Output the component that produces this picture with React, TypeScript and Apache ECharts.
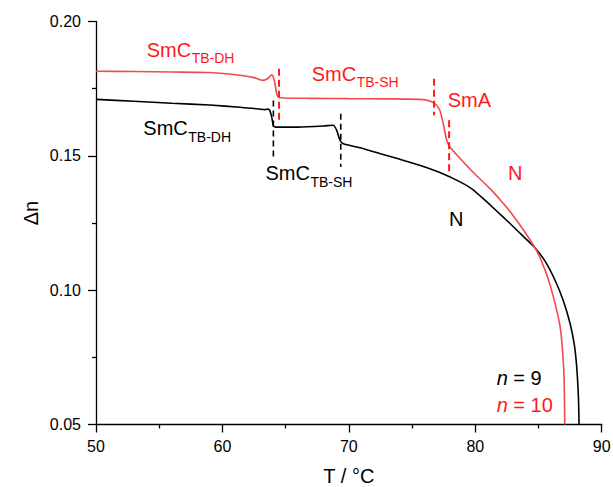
import React, { useEffect, useRef } from "react";
import * as echarts from "echarts";

// n = 10 (red)
const redT = [50, 53, 56, 59, 61.4, 62.5, 63.2, 63.6, 63.9, 64.05, 64.16, 64.28, 64.4, 64.8, 67, 70, 73, 75.6, 76.4, 76.9, 77.2, 77.47, 77.74, 78.0, 78.8, 79.85, 81.17, 82.0, 82.75, 83.8, 84.73, 85.13, 85.78, 86.31, 86.71, 86.92, 87.03, 87.08];
const redDn = [0.1815, 0.1814, 0.1812, 0.181, 0.18, 0.1791, 0.1781, 0.1788, 0.1802, 0.179, 0.1768, 0.1735, 0.1719, 0.1715, 0.1714, 0.1713, 0.1712, 0.171, 0.1704, 0.169, 0.1669, 0.162, 0.1558, 0.1533, 0.149, 0.1438, 0.1378, 0.1335, 0.1293, 0.1225, 0.1157, 0.112, 0.104, 0.0951, 0.0864, 0.0765, 0.0666, 0.05];

// n = 9 (black)
const blackT = [50, 53, 56, 59, 61.4, 62.7, 63.4, 63.6, 63.75, 63.9, 64.03, 64.2, 66, 68, 68.77, 69.04, 69.3, 69.56, 70.9, 72.5, 74.05, 75.6, 77.2, 78.8, 79.7, 80.5, 81.5, 82.75, 83.8, 84.73, 85.52, 86.31, 86.97, 87.5, 87.84, 88.03, 88.16, 88.21];
const blackDn = [0.171, 0.1703, 0.1696, 0.1689, 0.1681, 0.1675, 0.1672, 0.1674, 0.1668, 0.1644, 0.1612, 0.1607, 0.1607, 0.1611, 0.1614, 0.1595, 0.1558, 0.1545, 0.153, 0.1508, 0.1487, 0.1465, 0.1438, 0.1403, 0.1378, 0.1346, 0.1303, 0.1248, 0.12, 0.1157, 0.1108, 0.1037, 0.096, 0.0876, 0.0795, 0.071, 0.06, 0.05];

// phase transition markers: [T, top, bottom]
const redDashes = [
  [64.48, 0.1824, 0.1626],
  [76.74, 0.1787, 0.1651],
  [77.93, 0.1632, 0.144],
];
const blackDashes = [
  [64.03, 0.1706, 0.1483],
  [69.36, 0.1657, 0.1458],
];

const xTicks = [50, 60, 70, 80, 90];
const yTicks = [0.05, 0.1, 0.15, 0.2];

const RED = "#ff1a1a";
const RED_LINE = "#f24a4a";
const FONT = "Liberation Sans, Arial, sans-serif";

// phase labels: main text, subscript, colour, left x, baseline y
const phaseLabels: [string, string, string, number, number][] = [
  ["SmC", "TB-DH", RED, 146.7, 56.7],
  ["SmC", "TB-SH", RED, 311.7, 80.7],
  ["SmA", "", RED, 447.7, 106.7],
  ["N", "", RED, 508, 180],
  ["SmC", "TB-DH", "#000", 143.3, 135],
  ["SmC", "TB-SH", "#000", 265.5, 180],
  ["N", "", "#000", 449, 226],
];

export default function App() {
  const ref = useRef<HTMLDivElement>(null);
  useEffect(() => {
    if (!ref.current) return;
    const chart = echarts.init(ref.current, null, { renderer: "svg" });

    const mainFs = 20;
    const subFs = 14;
    const graphics: any[] = [];
    phaseLabels.forEach(([main, sub, color, x, base]) => {
      graphics.push({
        type: "text",
        x,
        y: base - 0.3465 * mainFs,
        style: { text: main, fill: color, font: `${mainFs}px ${FONT}`, verticalAlign: "middle", align: "left" },
      });
      if (sub) {
        const w = main === "SmC" ? 2.222 * mainFs : 0;
        graphics.push({
          type: "text",
          x: x + w + 0.5,
          y: base + 6.5 - 0.3465 * subFs,
          style: { text: sub, fill: color, font: `${subFs}px ${FONT}`, verticalAlign: "middle", align: "left" },
        });
      }
    });
    graphics.push({
      type: "text",
      x: 496.7,
      y: 385 - 0.3465 * 20,
      style: {
        text: "{i|n} = 9",
        fill: "#000",
        font: `20px ${FONT}`,
        verticalAlign: "middle",
        rich: { i: { fontStyle: "italic", fontSize: 20, fontFamily: FONT, fill: "#000" } },
      },
    });
    graphics.push({
      type: "text",
      x: 496.7,
      y: 411.7 - 0.3465 * 20,
      style: {
        text: "{i|n} = 10",
        fill: RED,
        font: `20px ${FONT}`,
        verticalAlign: "middle",
        rich: { i: { fontStyle: "italic", fontSize: 20, fontFamily: FONT, fill: RED } },
      },
    });
    graphics.push({
      type: "text",
      x: 31,
      y: 213,
      rotation: Math.PI / 2,
      style: { text: "Δn", fill: "#000", font: `20px ${FONT}`, align: "center", verticalAlign: "middle" },
    });

    const dashSeries = (arr: number[][], color: string, width: number, dash: number[]) =>
      arr.map((d) => ({
        type: "line",
        data: [
          [d[0], d[1]],
          [d[0], d[2]],
        ],
        symbol: "none",
        silent: true,
        lineStyle: { color, width, type: dash },
        z: 3,
      }));

    chart.setOption({
      animation: false,
      grid: { left: 96, right: 11.3, top: 21.5, bottom: 62.5, outerBoundsMode: "none", containLabel: false },
      xAxis: {
        type: "value",
        min: xTicks[0],
        max: xTicks[xTicks.length - 1],
        interval: 10,
        name: "T / °C",
        nameLocation: "middle",
        nameGap: 41,
        nameTextStyle: { fontSize: 20, fontFamily: FONT, color: "#000" },
        axisLine: { show: true, lineStyle: { color: "#000", width: 1.3 } },
        axisTick: { show: true, inside: false, length: 8, lineStyle: { color: "#000", width: 1.3 } },
        minorTick: { show: true, splitNumber: 2, length: 4, lineStyle: { color: "#000", width: 1.3 } },
        splitLine: { show: false },
        axisLabel: { fontSize: 16, fontFamily: FONT, color: "#000", margin: 14 },
      },
      yAxis: {
        type: "value",
        min: yTicks[0],
        max: yTicks[yTicks.length - 1],
        interval: 0.05,
        axisLine: { show: true, lineStyle: { color: "#000", width: 1.3 } },
        axisTick: { show: true, inside: false, length: 8, lineStyle: { color: "#000", width: 1.3 } },
        minorTick: { show: true, splitNumber: 2, length: 4, lineStyle: { color: "#000", width: 1.3 } },
        splitLine: { show: false },
        axisLabel: {
          fontSize: 16,
          fontFamily: FONT,
          color: "#000",
          margin: 15,
          formatter: (v: number) => v.toFixed(2),
        },
      },
      graphic: graphics,
      series: [
        {
          type: "line",
          data: blackT.map((t, i) => [t, blackDn[i]]),
          symbol: "none",
          smooth: 0.2,
          lineStyle: { color: "#000", width: 1.6 },
          z: 2,
        },
        {
          type: "line",
          data: redT.map((t, i) => [t, redDn[i]]),
          symbol: "none",
          smooth: 0.2,
          lineStyle: { color: RED_LINE, width: 1.6 },
          z: 2,
        },
        ...dashSeries(redDashes, RED, 2, [7, 4]),
        ...dashSeries(blackDashes, "#000", 1.6, [6, 4]),
      ],
    });
    return () => chart.dispose();
  }, []);
  return <div ref={ref} style={{ width: 613, height: 487, position: "absolute", left: 0, top: 0 }} />;
}
